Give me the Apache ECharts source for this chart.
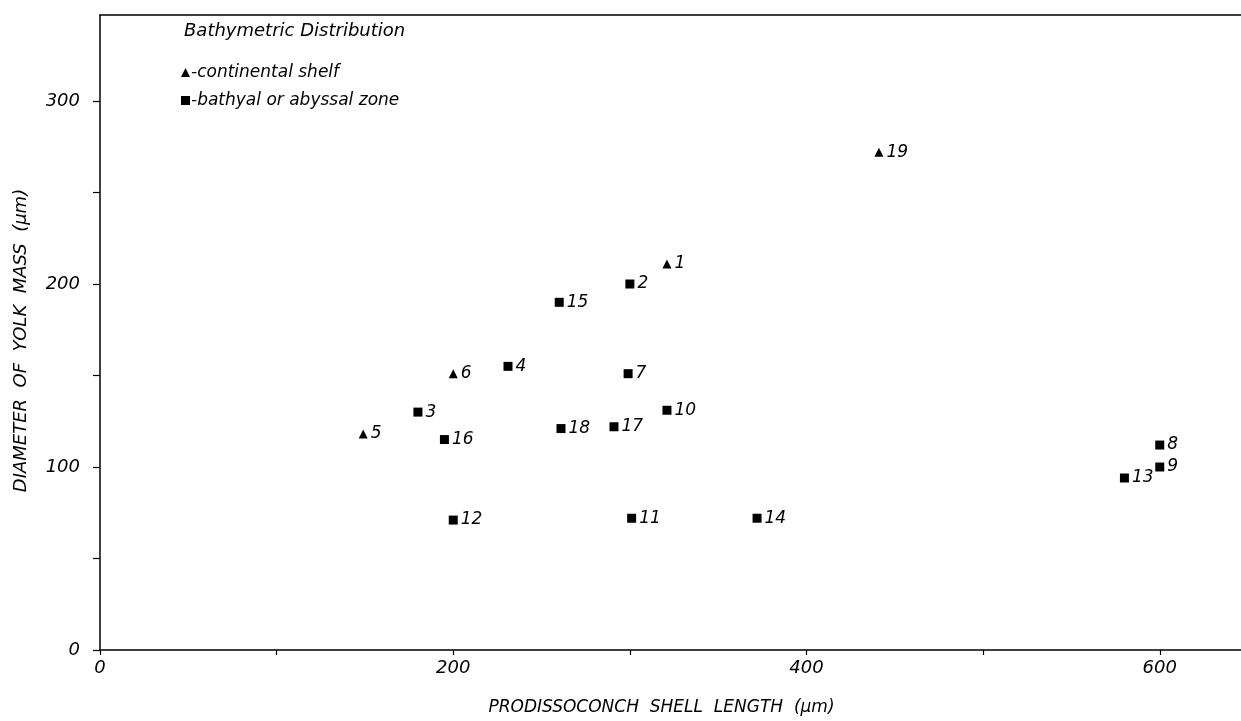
<!DOCTYPE html>
<html>
<head>
<meta charset="utf-8">
<script src="https://cdn.jsdelivr.net/npm/echarts@6/dist/echarts.min.js"></script>
<style>
html,body{margin:0;padding:0;background:#fff;}
#chart{width:1241px;height:721px;}
</style>
</head>
<body>
<div id="chart"></div>
<script>
// Continental shelf species (triangles)
const shelfIds = ['1', '5', '6', '19'];
const shelfX = [321, 149, 200, 441];
const shelfY = [211, 118, 151, 272];

// Bathyal or abyssal zone species (squares)
const deepIds = ['2', '3', '4', '7', '8', '9', '10', '11', '12', '13', '14', '15', '16', '17', '18'];
const deepX = [300, 180, 231, 299, 600, 600, 321, 301, 200, 580, 372, 260, 195, 291, 261];
const deepY = [200, 130, 155, 151, 112, 100, 131, 72, 71, 94, 72, 190, 115, 122, 121];

const xLabelValues = [0, 200, 400, 600];
const yLabelValues = [0, 100, 200, 300];

const FONT = 'DejaVu Sans';

function build(ids, xs, ys) {
  return ids.map((id, i) => ({ value: [xs[i], ys[i]], name: id }));
}

const chart = echarts.init(document.getElementById('chart'));
const labelStyle = {
  show: true,
  position: 'right',
  distance: 3,
  formatter: p => p.name,
  fontFamily: FONT,
  fontStyle: 'italic',
  fontSize: 17,
  color: '#000'
};

chart.setOption({
  animation: false,
  backgroundColor: '#fff',
  title: {
    text: 'Bathymetric Distribution',
    left: 179,
    top: 17,
    textStyle: { fontFamily: FONT, fontStyle: 'italic', fontWeight: 'normal', fontSize: 18, color: '#000' }
  },
  legend: {
    orient: 'vertical',
    left: 176,
    top: 59,
    itemWidth: 9,
    itemHeight: 9,
    itemGap: 11,
    formatter: n => '-' + n,
    textStyle: { fontFamily: FONT, fontStyle: 'italic', fontSize: 17, color: '#000', padding: [0, 0, 0, -4] },
    data: [
      { name: 'continental shelf', icon: 'triangle' },
      { name: 'bathyal or abyssal zone', icon: 'rect' }
    ]
  },
  grid: { left: 100, right: 0, top: 15, bottom: 67 },
  xAxis: [{
    type: 'value',
    min: 0,
    max: 646,
    interval: 100,
    position: 'bottom',
    splitLine: { show: false },
    axisLine: { onZero: false, lineStyle: { color: '#000', width: 1.5 } },
    axisTick: { show: true, length: 5, lineStyle: { color: '#000', width: 1.2 } },
    axisLabel: {
      margin: 9,
      showMaxLabel: false,
      fontFamily: FONT, fontStyle: 'italic', fontSize: 18, color: '#000',
      formatter: v => xLabelValues.indexOf(v) >= 0 ? String(v) : ''
    },
    name: 'PRODISSOCONCH  SHELL  LENGTH  (μm)',
    nameLocation: 'middle',
    nameGap: 49,
    nameTextStyle: { fontFamily: FONT, fontStyle: 'italic', fontSize: 17, color: '#000', padding: [0, 18, 0, 0] }
  }, {
    type: 'value',
    min: 0,
    max: 646,
    position: 'top',
    splitLine: { show: false },
    axisLine: { show: true, onZero: false, lineStyle: { color: '#000', width: 1.5 } },
    axisTick: { show: false },
    axisLabel: { show: false }
  }],
  yAxis: {
    type: 'value',
    min: 0,
    max: 347,
    interval: 50,
    splitLine: { show: false },
    axisLine: { show: true, onZero: false, lineStyle: { color: '#000', width: 1.5 } },
    axisTick: { show: true, length: 7, lineStyle: { color: '#000', width: 1.2 } },
    axisLabel: {
      margin: 20,
      showMaxLabel: false,
      fontFamily: FONT, fontStyle: 'italic', fontSize: 18, color: '#000',
      formatter: v => yLabelValues.indexOf(v) >= 0 ? String(v) : ''
    },
    name: 'DIAMETER  OF  YOLK  MASS  (μm)',
    nameLocation: 'middle',
    nameGap: 70,
    nameTextStyle: { fontFamily: FONT, fontStyle: 'italic', fontSize: 18, color: '#000', padding: [0, 16, 0, 0] }
  },
  series: [{
    name: 'continental shelf',
    type: 'scatter',
    symbol: 'triangle',
    symbolSize: 9,
    itemStyle: { color: '#000', opacity: 1 },
    label: labelStyle,
    data: build(shelfIds, shelfX, shelfY)
  }, {
    name: 'bathyal or abyssal zone',
    type: 'scatter',
    symbol: 'rect',
    symbolSize: 9,
    itemStyle: { color: '#000', opacity: 1 },
    label: labelStyle,
    data: build(deepIds, deepX, deepY)
  }]
});
</script>
</body>
</html>
